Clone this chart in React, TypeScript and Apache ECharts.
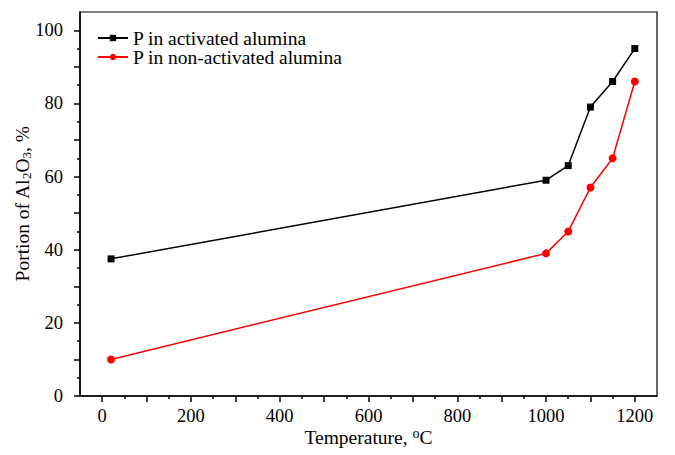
import React, { useEffect, useRef } from "react";
import * as echarts from "echarts";

const seriesNames = ["P in activated alumina", "P in non-activated alumina"];
const temperatures = [20, 1000, 1050, 1100, 1150, 1200];
const activated = [37.5, 59, 63, 79, 86, 95];
const nonActivated = [10, 39, 45, 57, 65, 86];
const xMajorTicks = [0, 100, 200, 300, 400, 500, 600, 700, 800, 900, 1000, 1100, 1200];
const xMinorTicks = [50, 150, 250, 350, 450, 550, 650, 750, 850, 950, 1050, 1150];
const xLabels = [0, 200, 400, 600, 800, 1000, 1200];
const yMajorTicks = [0, 10, 20, 30, 40, 50, 60, 70, 80, 90, 100];
const yMinorTicks = [5, 15, 25, 35, 45, 55, 65, 75, 85, 95];
const yLabels = [0, 20, 40, 60, 80, 100];

const FONT = "'Liberation Serif', 'Times New Roman', serif";

export default function App() {
  const ref = useRef<HTMLDivElement>(null);
  useEffect(() => {
    document.body.style.margin = "0";
    if (!ref.current) return;
    const chart = echarts.init(ref.current, undefined, { renderer: "svg" });
    const pair = (xs: number[], ys: number[]) => xs.map((x, i) => [x, ys[i]]);
    const tickStyle = { fontFamily: FONT, fontSize: 18.5, color: "#000" };
    const bigStyle = { fontFamily: FONT, fontSize: 19.5, color: "#000" };
    chart.setOption({
      animation: false,
      backgroundColor: "#fff",
      textStyle: { fontFamily: FONT, fontSize: 19, color: "#000" },
      grid: {
        left: 80,
        right: 18,
        top: 12,
        bottom: 59,
        show: true,
        borderColor: "#000",
        borderWidth: 1.2,
        backgroundColor: "transparent",
        outerBoundsMode: "none",
        containLabel: false,
      },
      legend: {
        orient: "vertical",
        left: 97,
        top: 28,
        padding: 0,
        itemWidth: 30,
        itemHeight: 8,
        itemGap: -1,
        data: seriesNames,
        formatter: (n: string) => `{t|${n}}`,
        textStyle: { ...bigStyle, rich: { t: { ...bigStyle } } },
      },
      xAxis: [
        {
          type: "value",
          min: -50,
          max: 1250,
          position: "bottom",
          offset: 0,
          name: "{t|Temperature, }{sup|o}{t|C}",
          nameLocation: "middle",
          nameGap: 30,
          nameMoveOverlap: false,
          nameTextStyle: {
            ...bigStyle,
            rich: {
              t: { ...bigStyle },
              sup: { fontFamily: FONT, fontSize: 14, verticalAlign: "top", padding: [0, 0, 8, 0], color: "#000" },
            },
          },
          axisLine: { show: true, onZero: false, lineStyle: { color: "#000", width: 1.5 } },
          axisTick: { show: true, inside: false, length: 6, customValues: xMajorTicks, lineStyle: { color: "#000", width: 1.5 } },
          axisLabel: { customValues: xLabels, ...tickStyle, rich: { t: { ...tickStyle } }, margin: 10, formatter: (v: number) => `{t|${v}}` },
          splitLine: { show: false },
        },
        {
          type: "value",
          min: -50,
          max: 1250,
          position: "bottom",
          offset: 0,
          axisLine: { show: false, onZero: false },
          axisTick: { show: true, inside: false, length: 3, customValues: xMinorTicks, lineStyle: { color: "#000", width: 1.5 } },
          axisLabel: { show: false },
          splitLine: { show: false },
        },
      ],
      yAxis: [
        {
          type: "value",
          min: 0,
          max: 105,
          position: "left",
          offset: 0,
          name: "{t|Portion of Al}{sub|2}{t|O}{sub|3}{t|, %}",
          nameLocation: "middle",
          nameGap: 47,
          nameMoveOverlap: false,
          nameTextStyle: {
            ...bigStyle,
            rich: {
              t: { ...bigStyle },
              sub: { fontFamily: FONT, fontSize: 13, verticalAlign: "bottom", padding: [8, 0, 0, 0], color: "#000" },
            },
          },
          axisLine: { show: true, onZero: false, lineStyle: { color: "#000", width: 1.5 } },
          axisTick: { show: true, inside: false, length: 6, customValues: yMajorTicks, lineStyle: { color: "#000", width: 1.5 } },
          axisLabel: { customValues: yLabels, ...tickStyle, rich: { t: { ...tickStyle } }, margin: 17, formatter: (v: number) => `{t|${v}}` },
          splitLine: { show: false },
        },
        {
          type: "value",
          min: 0,
          max: 105,
          position: "left",
          offset: 0,
          axisLine: { show: false, onZero: false },
          axisTick: { show: true, inside: false, length: 3, customValues: yMinorTicks, lineStyle: { color: "#000", width: 1.5 } },
          axisLabel: { show: false },
          splitLine: { show: false },
        },
      ],
      series: [
        {
          name: seriesNames[0],
          type: "line",
          data: pair(temperatures, activated),
          symbol: "rect",
          symbolSize: 7,
          itemStyle: { color: "#000" },
          lineStyle: { color: "#000", width: 1.5 },
        },
        {
          name: seriesNames[1],
          type: "line",
          data: pair(temperatures, nonActivated),
          symbol: "circle",
          symbolSize: 8,
          itemStyle: { color: "#ff0000" },
          lineStyle: { color: "#ff0000", width: 1.5 },
        },
      ],
    });
    return () => chart.dispose();
  }, []);
  return <div ref={ref} style={{ width: 675, height: 455 }} />;
}
